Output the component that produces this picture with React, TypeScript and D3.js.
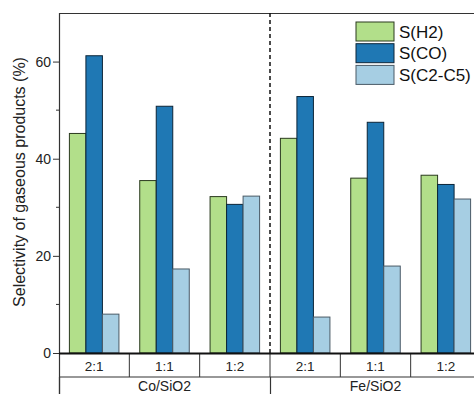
import React, { useEffect, useRef } from "react";
import * as d3 from "d3";

const catalysts = ["Co/SiO2", "Fe/SiO2"];
const ratios = ["2:1", "1:1", "1:2"];
const seriesNames = ["S(H2)", "S(CO)", "S(C2-C5)"];
const colors = ["#b2df8a", "#1f78b4", "#a6cee3"];
const strokes = ["#2a3a1e", "#0c2538", "#4a5a66"];

// values per group: Co 2:1, Co 1:1, Co 1:2, Fe 2:1, Fe 1:1, Fe 1:2
const sH2 = [45.2, 35.5, 32.2, 44.2, 36.0, 36.6];
const sCO = [61.2, 50.8, 30.6, 52.8, 47.5, 34.7];
const sC2C5 = [8.0, 17.3, 32.3, 7.4, 17.9, 31.7];

const yTicks = [0, 20, 40, 60];

export default function App() {
  const svgRef = useRef<SVGSVGElement>(null);

  useEffect(() => {
    const svg = d3.select(svgRef.current);
    svg.selectAll("*").remove();

    const left = 59, right = 481, top = 13, bottom = 353;
    const font = "Liberation Sans, Arial, sans-serif";

    const groups = catalysts.flatMap(c => ratios.map(r => `${c}|${r}`));
    const x = d3.scaleBand().domain(groups).range([left, right]).paddingInner(0).paddingOuter(0);
    const inner = d3.scaleBand().domain(seriesNames).range([0, x.bandwidth()]).paddingInner(0).paddingOuter(0.63);
    const y = d3.scaleLinear().domain([0, 70]).range([bottom, top]);

    const values = [sH2, sCO, sC2C5];

    const g = svg.append("g");

    // bars
    groups.forEach((grp, i) => {
      seriesNames.forEach((s, k) => {
        g.append("rect")
          .attr("x", x(grp)! + inner(s)!)
          .attr("y", y(values[k][i]))
          .attr("width", inner.bandwidth())
          .attr("height", y(0) - y(values[k][i]))
          .attr("fill", colors[k])
          .attr("stroke", strokes[k])
          .attr("stroke-width", 1);
      });
    });

    // frame top
    g.append("line").attr("x1", left).attr("x2", right).attr("y1", top + 0.5).attr("y2", top + 0.5)
      .attr("stroke", "#333").attr("stroke-width", 1.2);

    // y axis
    const yAxis = g.append("g").attr("transform", `translate(${left},0)`)
      .call(d3.axisLeft(y).tickValues(yTicks).tickSize(6).tickPadding(2).tickFormat(d3.format("d")));
    yAxis.select(".domain").remove();
    yAxis.selectAll("text").attr("font-size", 14).attr("font-family", font).attr("fill", "#222");
    yAxis.selectAll("line").attr("stroke", "#333");
    [10, 30, 50].forEach(v => {
      g.append("line").attr("x1", left - 3).attr("x2", left).attr("y1", y(v)).attr("y2", y(v)).attr("stroke", "#333");
    });
    g.append("line").attr("x1", left + 0.5).attr("x2", left + 0.5).attr("y1", top).attr("y2", 400)
      .attr("stroke", "#333").attr("stroke-width", 1.2);

    // dashed separator
    const sep = x(`${catalysts[1]}|${ratios[0]}`)!;
    g.append("line").attr("x1", sep).attr("x2", sep).attr("y1", top).attr("y2", bottom)
      .attr("stroke", "#111").attr("stroke-width", 1.5).attr("stroke-dasharray", "4,3");

    // category rows
    const row1 = 377;
    g.append("line").attr("x1", left).attr("x2", right).attr("y1", row1).attr("y2", row1).attr("stroke", "#333").attr("stroke-width", 1.2);
    groups.forEach(grp => {
      const x0 = x(grp)!;
      g.append("line").attr("x1", x0 + x.bandwidth()).attr("x2", x0 + x.bandwidth()).attr("y1", bottom).attr("y2", row1).attr("stroke", "#333");
      g.append("text").attr("x", x0 + x.bandwidth() / 2).attr("y", 371).attr("text-anchor", "middle")
        .attr("font-size", 13.5).attr("font-family", font).attr("fill", "#222").text(grp.split("|")[1]);
    });
    catalysts.forEach(c => {
      const x0 = x(`${c}|${ratios[0]}`)!;
      const x1 = x(`${c}|${ratios[2]}`)! + x.bandwidth();
      g.append("line").attr("x1", x0 + 0.5).attr("x2", x0 + 0.5).attr("y1", row1).attr("y2", 400).attr("stroke", "#333").attr("stroke-width", 1.2);
      g.append("text").attr("x", (x0 + x1) / 2).attr("y", 391).attr("text-anchor", "middle")
        .attr("font-size", 14).attr("font-family", font).attr("fill", "#222").text(c);
    });

    // bottom axis line
    g.append("line").attr("x1", left).attr("x2", right).attr("y1", bottom + 0.5).attr("y2", bottom + 0.5)
      .attr("stroke", "#111").attr("stroke-width", 2);

    // y title
    g.append("text").attr("transform", `translate(25,182) rotate(-90)`)
      .attr("text-anchor", "middle").attr("font-size", 16).attr("font-family", font).attr("fill", "#222")
      .text("Selectivity of gaseous products (%)");

    // legend
    seriesNames.forEach((s, k) => {
      const ly = 22 + k * 21.7;
      g.append("rect").attr("x", 356).attr("y", ly).attr("width", 38).attr("height", 19)
        .attr("fill", colors[k]).attr("stroke", strokes[k]).attr("stroke-width", 1);
      g.append("text").attr("x", 399).attr("y", ly + 15.5).attr("font-size", 17).attr("font-family", font)
        .attr("fill", "#111").text(s);
    });
  }, []);

  return (
    <svg ref={svgRef} width={474} height={394}
      style={{ position: "absolute", left: 0, top: 0, background: "#fff" }} />
  );
}
